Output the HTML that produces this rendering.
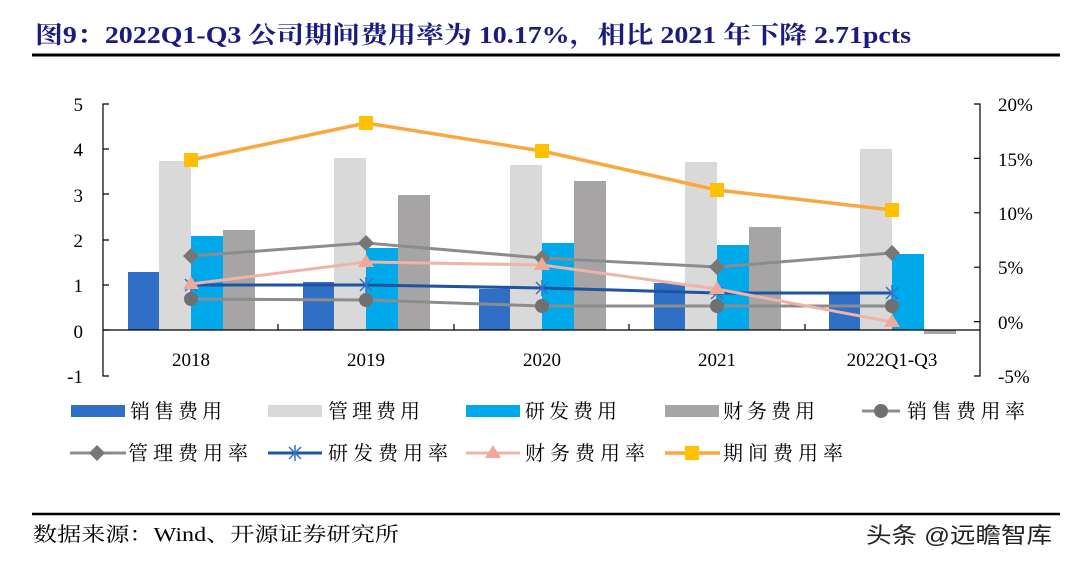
<!DOCTYPE html>
<html><head><meta charset="utf-8"><style>
body{margin:0;background:#fff;}
svg{display:block;font-family:"Liberation Serif","Noto Serif CJK SC",serif;}
</style></head><body>
<svg width="1066" height="562" viewBox="0 0 1066 562" xmlns="http://www.w3.org/2000/svg">
<text x="35" y="43" font-size="24" font-weight="bold" fill="#1a1a80" textLength="876" lengthAdjust="spacingAndGlyphs">图9：2022Q1-Q3 公司期间费用率为 10.17%，相比 2021 年下降 2.71pcts</text>
<line x1="32" y1="55" x2="1060" y2="55" stroke="#000" stroke-width="3"/>
<g font-size="19" fill="#000">
<text x="83" y="111" text-anchor="end">5</text><text x="83" y="156" text-anchor="end">4</text><text x="83" y="202" text-anchor="end">3</text><text x="83" y="247" text-anchor="end">2</text><text x="83" y="292" text-anchor="end">1</text><text x="83" y="338" text-anchor="end">0</text><text x="83" y="383" text-anchor="end">-1</text>
<text x="998" y="111">20%</text><text x="998" y="166">15%</text><text x="998" y="220">10%</text><text x="998" y="274">5%</text><text x="998" y="329">0%</text><text x="998" y="383">-5%</text>
<text x="191" y="366" text-anchor="middle">2018</text><text x="366" y="366" text-anchor="middle">2019</text><text x="542" y="366" text-anchor="middle">2020</text><text x="717" y="366" text-anchor="middle">2021</text><text x="892" y="366" text-anchor="middle">2022Q1-Q3</text>
</g>
<g stroke="#000" stroke-width="1.2" fill="none">
<path d="M109 104H103V376H109"/>
<path d="M103 149H109M103 194H109M103 240H109M103 285H109M103 330H109"/>
<path d="M974 104H980V376H974"/>
<path d="M974 158.4H980M974 212.8H980M974 267.2H980M974 321.6H980"/>
</g>
<g>
<rect x="128" y="272" width="31" height="58" fill="#2f6fc6"/>
<rect x="159" y="161" width="32" height="169" fill="#d9d9d9"/>
<rect x="191" y="236" width="32" height="94" fill="#00a9ea"/>
<rect x="223" y="230" width="32" height="100" fill="#a6a4a4"/>
<rect x="303" y="282" width="31" height="48" fill="#2f6fc6"/>
<rect x="334" y="158" width="32" height="172" fill="#d9d9d9"/>
<rect x="366" y="248" width="32" height="82" fill="#00a9ea"/>
<rect x="398" y="195" width="32" height="135" fill="#a6a4a4"/>
<rect x="479" y="289" width="31" height="41" fill="#2f6fc6"/>
<rect x="510" y="165" width="32" height="165" fill="#d9d9d9"/>
<rect x="542" y="243" width="32" height="87" fill="#00a9ea"/>
<rect x="574" y="181" width="32" height="149" fill="#a6a4a4"/>
<rect x="654" y="283" width="31" height="47" fill="#2f6fc6"/>
<rect x="685" y="162" width="32" height="168" fill="#d9d9d9"/>
<rect x="717" y="245" width="32" height="85" fill="#00a9ea"/>
<rect x="749" y="227" width="32" height="103" fill="#a6a4a4"/>
<rect x="829" y="293" width="31" height="37" fill="#2f6fc6"/>
<rect x="860" y="149" width="32" height="181" fill="#d9d9d9"/>
<rect x="892" y="254" width="32" height="76" fill="#00a9ea"/>
<rect x="924" y="330" width="32" height="4" fill="#a6a4a4"/>
</g>
<line x1="103" y1="330" x2="980" y2="330" stroke="#000" stroke-width="1.2"/>
<path d="M278 330v-6M454 330v-6M629 330v-6M805 330v-6" stroke="#000" stroke-width="1.2"/>
<polyline points="191,299 366,300 542,306 717,306 892,306" fill="none" stroke="#8c8c8c" stroke-width="3"/>
<g fill="#707070"><circle cx="191" cy="299" r="7"/><circle cx="366" cy="300" r="7"/><circle cx="542" cy="306" r="7"/><circle cx="717" cy="306" r="7"/><circle cx="892" cy="306" r="7"/></g>
<polyline points="191,256 366,243 542,258 717,267 892,253" fill="none" stroke="#8c8c8c" stroke-width="3"/>
<g fill="#777"><path d="M191 248l8 8-8 8-8-8z"/><path d="M366 235l8 8-8 8-8-8z"/><path d="M542 250l8 8-8 8-8-8z"/><path d="M717 259l8 8-8 8-8-8z"/><path d="M892 245l8 8-8 8-8-8z"/></g>
<polyline points="191,285 366,285 542,288 717,293 892,293" fill="none" stroke="#1f54a0" stroke-width="3"/>
<g stroke="#2e75c8" stroke-width="1.5"><path d="M185 279l12 12M197 279l-12 12M191 277v16"/><path d="M360 279l12 12M372 279l-12 12M366 277v16"/><path d="M536 282l12 12M548 282l-12 12M542 280v16"/><path d="M711 287l12 12M723 287l-12 12M717 285v16"/><path d="M886 287l12 12M898 287l-12 12M892 285v16"/></g>
<polyline points="191,284 366,262 542,265 717,289 892,322" fill="none" stroke="#f0b3aa" stroke-width="3"/>
<g fill="#f0a898"><path d="M191 276l8 13h-16z"/><path d="M366 254l8 13h-16z"/><path d="M542 257l8 13h-16z"/><path d="M717 281l8 13h-16z"/><path d="M892 314l8 13h-16z"/></g>
<polyline points="191,160 366,123 542,151 717,190 892,210" fill="none" stroke="#f9a73e" stroke-width="3.5"/>
<g fill="#ffc000"><rect x="184" y="153" width="14" height="14"/><rect x="359" y="116" width="14" height="14"/><rect x="535" y="144" width="14" height="14"/><rect x="710" y="183" width="14" height="14"/><rect x="885" y="203" width="14" height="14"/></g>
<g font-size="20" fill="#000">
<rect x="71" y="405" width="54" height="12" fill="#2f6fc6"/><text x="130" y="418" textLength="92">销售费用</text>
<rect x="268" y="405" width="54" height="12" fill="#d9d9d9"/><text x="328" y="418" textLength="92">管理费用</text>
<rect x="466" y="405" width="54" height="12" fill="#00a9ea"/><text x="525" y="418" textLength="92">研发费用</text>
<rect x="665" y="405" width="54" height="12" fill="#a6a4a4"/><text x="723" y="418" textLength="92">财务费用</text>
<line x1="862" y1="411" x2="900" y2="411" stroke="#8c8c8c" stroke-width="3"/><circle cx="881" cy="411" r="7" fill="#707070"/><text x="907" y="418" textLength="118">销售费用率</text>
<line x1="70" y1="453" x2="126" y2="453" stroke="#8c8c8c" stroke-width="3"/><path d="M97 445l8 8-8 8-8-8z" fill="#777"/><text x="128" y="460" textLength="120">管理费用率</text>
<line x1="268" y1="453" x2="322" y2="453" stroke="#1f54a0" stroke-width="3"/><path d="M289 447l12 12M301 447l-12 12M295 445v16" stroke="#2e75c8" stroke-width="1.5"/><text x="328" y="460" textLength="120">研发费用率</text>
<line x1="466" y1="453" x2="520" y2="453" stroke="#f0b3aa" stroke-width="3"/><path d="M493 445l8 13h-16z" fill="#f0a898"/><text x="525" y="460" textLength="120">财务费用率</text>
<line x1="665" y1="453" x2="720" y2="453" stroke="#f9a73e" stroke-width="3.5"/><rect x="685" y="446" width="14" height="14" fill="#ffc000"/><text x="723" y="460" textLength="120">期间费用率</text>
</g>
<line x1="32" y1="514" x2="1060" y2="514" stroke="#000" stroke-width="2.5"/>
<text x="33" y="541" font-size="20" fill="#000" textLength="366" lengthAdjust="spacingAndGlyphs">数据来源：Wind、开源证券研究所</text>
<text x="866" y="543" font-size="22" fill="#222" textLength="186" lengthAdjust="spacingAndGlyphs" font-family="'Liberation Sans','Noto Sans CJK SC',sans-serif">头条 @远瞻智库</text>
</svg>
</body></html>
